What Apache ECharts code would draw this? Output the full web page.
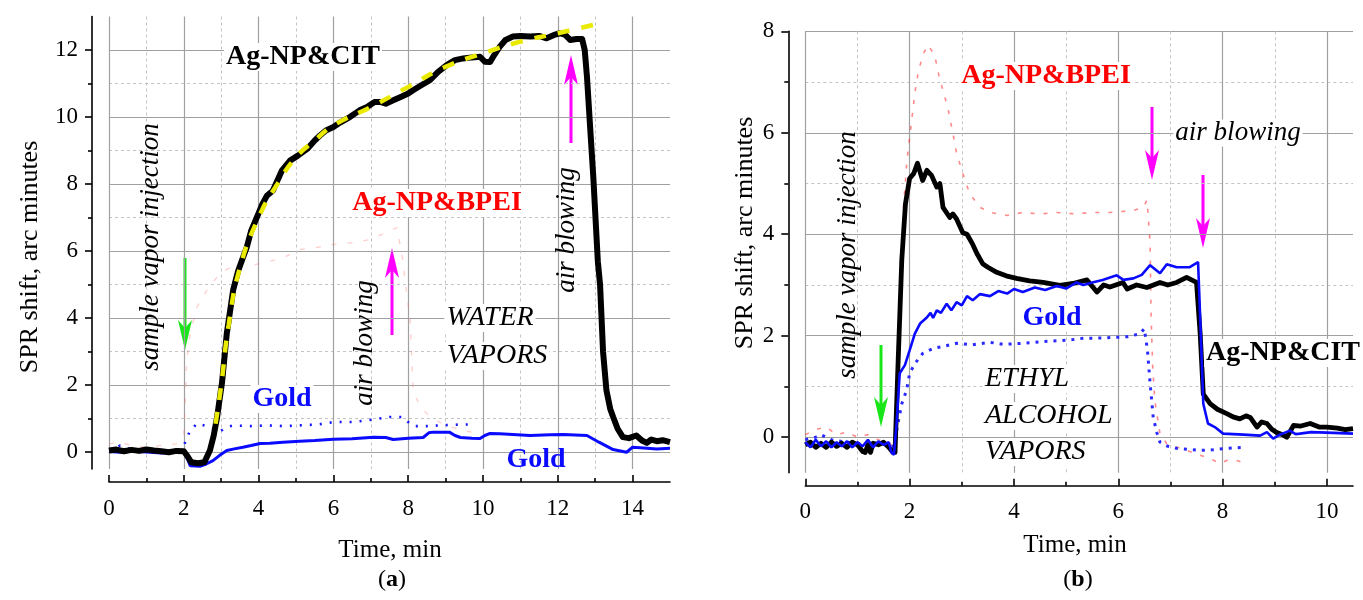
<!DOCTYPE html>
<html>
<head>
<meta charset="utf-8">
<script src="https://cdn.jsdelivr.net/npm/echarts@6/dist/echarts.min.js"></script>
<style>html,body{margin:0;padding:0;background:#fff}#c{width:1363px;height:600px}</style>
</head>
<body>
<div id="c"></div>
<script>
// ---------- DATA (time in min, SPR shift in arc minutes) ----------
// Panel (a): water vapors
var waterCit = [[0,0.05],[0.2,0.08],[0.4,0.03],[0.6,0.07],[0.8,0.04],[1.0,0.08],[1.2,0.05],[1.4,0.03],[1.6,0.0],[1.8,0.04],[2.0,0.03],[2.1,-0.12],[2.2,-0.3],[2.38,-0.33],[2.55,-0.3],[2.7,0.06],[2.8,0.5],[2.89,1.04],[2.96,1.6],[3.02,2.06],[3.15,3.55],[3.32,4.84],[3.45,5.4],[3.58,5.8],[3.68,6.1],[3.8,6.6],[3.95,7.0],[4.1,7.4],[4.22,7.65],[4.38,7.8],[4.5,8.1],[4.62,8.4],[4.84,8.7],[5.05,8.85],[5.3,9.05],[5.5,9.3],[5.64,9.45],[5.8,9.6],[6.0,9.7],[6.2,9.85],[6.44,10.0],[6.7,10.2],[6.9,10.3],[7.1,10.45],[7.25,10.45],[7.4,10.4],[7.6,10.5],[7.8,10.6],[8.0,10.7],[8.13,10.8],[8.35,10.95],[8.58,11.1],[8.8,11.35],[9.03,11.55],[9.25,11.7],[9.47,11.75],[9.7,11.78],[9.92,11.8],[10.05,11.65],[10.19,11.64],[10.3,11.85],[10.45,12.1],[10.6,12.3],[10.8,12.4],[11.0,12.42],[11.26,12.4],[11.5,12.42],[11.7,12.35],[11.9,12.45],[12.06,12.5],[12.2,12.45],[12.33,12.3],[12.5,12.33],[12.65,12.33],[12.72,12.0],[12.78,11.2],[12.87,9.6],[12.95,8.2],[13.07,5.7],[13.13,5.0],[13.21,3.0],[13.3,1.85],[13.4,1.3],[13.48,1.05],[13.6,0.7],[13.74,0.45],[13.9,0.42],[14.1,0.5],[14.25,0.35],[14.38,0.28],[14.5,0.38],[14.65,0.33],[14.8,0.36],[15,0.3]];
var waterCitFit = [[2.85,0.85],[3.0,2.0],[3.2,3.8],[3.5,5.5],[4.0,7.0],[4.5,8.0],[5.0,8.8],[5.5,9.3],[6.0,9.75],[7.0,10.3],[8.0,10.9],[9.0,11.5],[10.0,11.9],[11.0,12.25],[12.0,12.5],[12.95,12.75]];
var waterGold = [[0,0.02],[0.3,0.0],[0.6,0.03],[1.0,0.01],[1.4,-0.02],[1.8,0.0],[2.0,0.0],[2.1,-0.2],[2.17,-0.4],[2.43,-0.42],[2.6,-0.35],[2.78,-0.25],[2.95,-0.1],[3.15,0.05],[3.35,0.1],[3.58,0.15],[3.8,0.2],[4.04,0.26],[4.3,0.27],[4.65,0.3],[5.1,0.33],[5.5,0.35],[6.0,0.39],[6.5,0.4],[7.07,0.45],[7.4,0.44],[7.6,0.38],[8.0,0.42],[8.4,0.44],[8.55,0.58],[8.67,0.6],[9.1,0.6],[9.25,0.5],[9.4,0.44],[9.7,0.42],[9.92,0.41],[10.05,0.5],[10.19,0.56],[10.45,0.55],[11.26,0.5],[11.8,0.52],[12.15,0.53],[12.78,0.5],[13.1,0.3],[13.48,0.08],[13.84,0.0],[14.0,0.15],[14.3,0.13],[14.65,0.1],[15,0.12]];
var waterGold2 = [[0,0.08],[0.2,0.15],[0.3,0.2],[0.5,0.12],[0.8,0.05],[1.2,0.02],[1.6,0.05],[1.9,0.08],[2.0,0.2],[2.15,0.6],[2.35,0.86],[2.55,0.8],[2.7,0.75],[2.97,0.62],[3.15,0.75],[3.32,0.8],[3.8,0.78],[4.22,0.8],[4.7,0.78],[5.1,0.8],[5.6,0.83],[6.0,0.9],[6.5,0.9],[6.9,0.95],[7.2,1.0],[7.5,1.05],[7.86,1.05],[8.0,0.9],[8.13,0.78],[8.5,0.78],[8.85,0.8],[9.2,0.82],[9.65,0.83]];
var waterBpei = [[0,0.25],[0.3,0.3],[0.6,0.2],[1.0,0.15],[1.4,0.2],[1.8,0.25],[2.0,0.5],[2.08,2.75],[2.17,3.55],[2.35,4.33],[2.62,4.84],[2.97,5.34],[3.5,5.67],[3.85,5.58],[4.3,5.7],[4.65,5.8],[5.1,6.05],[5.5,6.1],[6.0,6.2],[6.5,6.25],[6.9,6.33],[7.3,6.5],[7.7,6.7],[7.86,5.7],[7.95,4.8],[8.05,4.0],[8.13,1.85],[8.3,1.4],[8.58,1.05],[9.0,0.8],[9.47,0.65],[9.7,0.6]];
// Panel (b): ethyl alcohol vapors
var ethCit = [[0,-0.15],[0.1,-0.1],[0.2,-0.2],[0.3,-0.12],[0.4,-0.2],[0.5,-0.1],[0.6,-0.18],[0.7,-0.12],[0.8,-0.2],[0.9,-0.1],[1.0,-0.15],[1.1,-0.28],[1.15,-0.3],[1.2,-0.15],[1.25,-0.3],[1.3,-0.12],[1.4,-0.15],[1.5,-0.1],[1.6,-0.2],[1.68,-0.3],[1.72,-0.3],[1.78,1.5],[1.85,3.5],[1.92,4.6],[2.0,5.1],[2.08,5.2],[2.15,5.4],[2.25,5.06],[2.33,5.26],[2.42,5.16],[2.52,4.93],[2.58,5.0],[2.64,4.53],[2.77,4.33],[2.83,4.4],[2.9,4.3],[3.02,4.03],[3.1,4.0],[3.21,3.8],[3.29,3.62],[3.4,3.42],[3.5,3.35],[3.67,3.25],[3.85,3.18],[4.05,3.13],[4.3,3.08],[4.56,3.05],[4.88,2.99],[5.13,3.03],[5.4,3.1],[5.59,2.86],[5.72,3.0],[5.84,2.96],[6.09,3.05],[6.17,2.92],[6.35,3.0],[6.55,2.95],[6.8,3.05],[6.95,3.0],[7.12,3.05],[7.31,3.15],[7.5,3.05],[7.57,2.04],[7.63,0.85],[7.76,0.66],[7.9,0.55],[8.09,0.46],[8.2,0.4],[8.33,0.36],[8.45,0.42],[8.53,0.39],[8.66,0.2],[8.75,0.3],[8.85,0.27],[8.95,0.15],[9.04,0.09],[9.15,0.05],[9.23,0.0],[9.36,0.23],[9.5,0.22],[9.68,0.27],[9.85,0.2],[10,0.2],[10.2,0.18],[10.35,0.15],[10.5,0.17]];
var ethGold = [[0,-0.1],[0.1,-0.2],[0.2,-0.05],[0.3,-0.18],[0.4,-0.08],[0.5,-0.2],[0.6,-0.1],[0.7,-0.18],[0.8,-0.08],[0.9,-0.2],[1.0,-0.1],[1.1,-0.18],[1.2,-0.05],[1.3,-0.2],[1.4,-0.08],[1.5,-0.15],[1.6,-0.1],[1.65,-0.3],[1.7,-0.35],[1.75,0.27],[1.81,1.26],[1.91,1.42],[2.0,1.71],[2.1,2.04],[2.2,2.24],[2.33,2.36],[2.4,2.45],[2.45,2.35],[2.52,2.5],[2.6,2.45],[2.71,2.63],[2.8,2.5],[2.9,2.66],[3.0,2.6],[3.1,2.78],[3.21,2.7],[3.35,2.82],[3.54,2.78],[3.7,2.88],[3.87,2.83],[4.0,2.92],[4.17,2.86],[4.4,2.95],[4.6,2.9],[4.82,2.98],[5.0,2.93],[5.2,3.05],[5.33,3.0],[5.5,3.05],[5.7,3.1],[5.97,3.19],[6.1,3.1],[6.29,3.13],[6.45,3.2],[6.61,3.39],[6.8,3.23],[6.93,3.41],[7.12,3.35],[7.37,3.35],[7.53,3.45],[7.57,2.36],[7.63,0.66],[7.72,0.27],[7.85,0.2],[8.01,0.07],[8.4,0.05],[8.72,0.03],[8.85,0.1],[8.97,-0.03],[9.1,0.05],[9.29,0.13],[9.4,0.06],[9.48,0.07],[9.7,0.1],[10,0.09],[10.5,0.07]];
var ethGold2 = [[0,-0.05],[0.2,0.0],[0.3,0.05],[0.5,-0.05],[0.8,-0.1],[1.0,-0.12],[1.3,-0.15],[1.5,-0.12],[1.65,-0.2],[1.72,-0.15],[1.75,0.13],[1.85,0.66],[1.94,0.92],[2.0,1.26],[2.1,1.45],[2.25,1.65],[2.45,1.75],[2.6,1.78],[2.9,1.85],[3.2,1.82],[3.54,1.87],[3.8,1.83],[4.17,1.85],[4.5,1.88],[4.82,1.9],[5.1,1.92],[5.33,1.95],[5.52,1.95],[5.8,1.96],[6.17,1.98],[6.42,2.04],[6.5,2.14],[6.56,1.71],[6.61,1.06],[6.67,0.39],[6.74,0.09],[6.8,-0.1],[6.95,-0.18],[7.12,-0.22],[7.35,-0.24],[7.57,-0.26],[7.8,-0.25],[8.09,-0.22],[8.39,-0.2]];
var ethBpei = [[0,0.05],[0.2,0.15],[0.4,0.2],[0.6,0.05],[0.8,0.1],[1.0,0.0],[1.2,0.05],[1.4,-0.05],[1.6,-0.1],[1.7,-0.2],[1.75,0.5],[1.82,3.0],[1.88,4.5],[1.95,5.46],[2.0,5.9],[2.1,6.78],[2.16,7.17],[2.25,7.53],[2.35,7.73],[2.48,7.53],[2.58,7.04],[2.64,6.84],[2.74,6.45],[2.83,5.99],[2.9,5.6],[3.02,5.2],[3.15,4.8],[3.35,4.53],[3.54,4.43],[3.87,4.37],[4.17,4.43],[4.5,4.4],[4.82,4.43],[5.2,4.4],[5.46,4.43],[5.84,4.43],[6.1,4.45],[6.29,4.47],[6.48,4.53],[6.55,4.67],[6.58,4.27],[6.61,3.82],[6.63,2.36],[6.66,1.38],[6.7,0.72],[6.8,0.07],[6.93,-0.13],[7.31,-0.26],[7.55,-0.35],[7.76,-0.42],[7.95,-0.52],[8.1,-0.45],[8.28,-0.46],[8.43,-0.52]];
// Tick values
var xTicksA = [0,2,4,6,8,10,12,14];
var xMinorA = [1,3,5,7,9,11,13];
var yTicksA = [0,2,4,6,8,10,12];
var yMinorA = [1,3,5,7,9,11];
var xTicksB = [0,2,4,6,8,10];
var xMinorB = [1,3,5,7,9];
var yTicksB = [0,2,4,6,8];
var yMinorB = [1,3,5,7];

var FONT = 'Liberation Serif';
var chart = echarts.init(document.getElementById('c'), null, {renderer: 'canvas'});

function xAx(grid, min, max, vals, major) {
  return {
    type: 'value', gridIndex: grid, min: min, max: max, position: 'bottom', offset: 13,
    axisLine: {show: major, onZero: false, lineStyle: {color: '#000', width: 1.6}},
    axisTick: {show: true, inside: true, length: major ? 7 : 4, customValues: vals, lineStyle: {color: '#000', width: 1.6}},
    axisLabel: {show: major, customValues: vals, fontFamily: FONT, fontSize: 23, color: '#000', margin: 15},
    splitLine: {show: true, lineStyle: major ? {color: '#a0a0a0', width: 1.2} : {color: '#c4c4c4', width: 1, type: [3, 3]}}
  };
}
function yAx(grid, min, max, vals, major) {
  return {
    type: 'value', gridIndex: grid, min: min, max: max, position: 'left', offset: 17,
    axisLine: {show: major, onZero: false, lineStyle: {color: '#000', width: 1.6}},
    axisTick: {show: true, inside: false, length: major ? 7 : 4, customValues: vals, lineStyle: {color: '#000', width: 1.6}},
    axisLabel: {show: major, customValues: vals, fontFamily: FONT, fontSize: 23, color: '#000', margin: 14},
    splitLine: {show: true, lineStyle: major ? {color: '#a0a0a0', width: 1.2} : {color: '#c4c4c4', width: 1, type: [3, 3]}}
  };
}

function txt(x, y, s, opt) {
  opt = opt || {};
  return {
    type: 'text', x: x, y: y, rotation: opt.rot || 0, z: 100,
    style: {
      text: s, fill: opt.color || '#000', textAlign: 'center', textVerticalAlign: 'middle',
      font: (opt.italic ? 'italic ' : '') + (opt.bold ? 'bold ' : '') + (opt.size || 27) + 'px "' + FONT + '"',
      backgroundColor: opt.bg ? '#fff' : null, padding: opt.bg ? [0, 2] : 0
    }
  };
}
function arrow(x, y0, tip, color) {
  var dir = tip > y0 ? 1 : -1;
  var hl = 30, hw = 7, notch = 8;
  return {
    type: 'group', z: 100, children: [
      {type: 'line', shape: {x1: x, y1: y0, x2: x, y2: tip - dir * (hl - notch)}, style: {stroke: color, lineWidth: 3}},
      {type: 'polygon', shape: {points: [[x, tip], [x - hw, tip - dir * hl], [x, tip - dir * (hl - notch)], [x + hw, tip - dir * hl]]}, style: {fill: color}}
    ]
  };
}

var option = {
  animation: false,
  backgroundColor: '#fff',
  grid: [
    {left: 109, top: 16.5, width: 561, height: 452.5},
    {left: 805.3, top: 31.3, width: 547.7, height: 441.4}
  ],
  xAxis: [
    xAx(0, 0, 15, xTicksA, true), xAx(0, 0, 15, xMinorA, false),
    xAx(1, 0, 10.5, xTicksB, true), xAx(1, 0, 10.5, xMinorB, false)
  ],
  yAxis: [
    yAx(0, -0.5, 13, yTicksA, true), yAx(0, -0.5, 13, yMinorA, false),
    yAx(1, -0.7, 8, yTicksB, true), yAx(1, -0.7, 8, yMinorB, false)
  ],
  series: [
    {type: 'line', xAxisIndex: 0, yAxisIndex: 0, data: waterBpei, showSymbol: false, z: 2,
     lineStyle: {color: 'rgba(250,120,120,0.35)', width: 1.4, type: [5, 11]}},
    {type: 'line', xAxisIndex: 0, yAxisIndex: 0, data: waterGold2, showSymbol: false, z: 3,
     lineStyle: {color: '#1515ff', width: 2.6, type: [2, 8]}},
    {type: 'line', xAxisIndex: 0, yAxisIndex: 0, data: waterGold, showSymbol: false, z: 4,
     lineStyle: {color: '#0a0aff', width: 3}},
    {type: 'line', xAxisIndex: 0, yAxisIndex: 0, data: waterCit, showSymbol: false, z: 5,
     lineStyle: {color: '#000', width: 6, join: 'round'}},
    {type: 'line', xAxisIndex: 0, yAxisIndex: 0, data: waterCitFit, showSymbol: false, smooth: 0.5, z: 6,
     lineStyle: {color: '#eaea00', width: 4.5, type: [12, 12]}},

    {type: 'line', xAxisIndex: 2, yAxisIndex: 2, data: ethBpei, showSymbol: false, z: 2,
     lineStyle: {color: 'rgba(255,40,40,0.55)', width: 1.6, type: [4, 9]}},
    {type: 'line', xAxisIndex: 2, yAxisIndex: 2, data: ethGold2, showSymbol: false, z: 3,
     lineStyle: {color: '#2a2aff', width: 3, type: [3, 6]}},
    {type: 'line', xAxisIndex: 2, yAxisIndex: 2, data: ethCit, showSymbol: false, z: 4,
     lineStyle: {color: '#000', width: 4.8, join: 'round'}},
    {type: 'line', xAxisIndex: 2, yAxisIndex: 2, data: ethGold, showSymbol: false, z: 5,
     lineStyle: {color: '#0a0aff', width: 2.6}}
  ],
  graphic: [
    txt(30, 257, 'SPR shift, arc minutes', {rot: Math.PI / 2, size: 26}),
    txt(745, 233, 'SPR shift, arc minutes', {rot: Math.PI / 2, size: 26}),
    txt(390, 550, 'Time, min', {size: 25}),
    txt(1075, 545, 'Time, min', {size: 25}),
    {type: 'text', x: 392, y: 580, z: 100, style: {text: '{n|(}{b|a}{n|)}', textAlign: 'center', textVerticalAlign: 'middle',
      rich: {n: {fontFamily: FONT, fontSize: 24, fill: '#000'}, b: {fontFamily: FONT, fontSize: 24, fontWeight: 'bold', fill: '#000'}}}},
    {type: 'text', x: 1078, y: 580, z: 100, style: {text: '{n|(}{b|b}{n|)}', textAlign: 'center', textVerticalAlign: 'middle',
      rich: {n: {fontFamily: FONT, fontSize: 24, fill: '#000'}, b: {fontFamily: FONT, fontSize: 24, fontWeight: 'bold', fill: '#000'}}}},

    // panel (a)
    txt(303, 57, 'Ag-NP&CIT', {bold: true, size: 28, bg: true}),
    txt(437, 203, 'Ag-NP&BPEI', {bold: true, size: 28, color: '#ff0000', bg: true}),
    txt(282, 399, 'Gold', {bold: true, size: 28, color: '#0a0aff', bg: true}),
    txt(536, 460, 'Gold', {bold: true, size: 28, color: '#0a0aff'}),
    txt(490, 318, 'WATER', {italic: true, size: 28, bg: true}),
    txt(497, 356, 'VAPORS', {italic: true, size: 28, bg: true}),
    txt(151, 247, 'sample vapor injection', {italic: true, size: 27, rot: Math.PI / 2}),
    txt(365, 343, 'air blowing', {italic: true, size: 27, rot: Math.PI / 2}),
    txt(567, 230, 'air blowing', {italic: true, size: 27, rot: Math.PI / 2}),
    arrow(185, 258, 350, '#19e619'),
    arrow(392, 335, 248, '#ff00ff'),
    arrow(571, 143, 55, '#ff00ff'),

    // panel (b)
    txt(1046, 76, 'Ag-NP&BPEI', {bold: true, size: 28, color: '#ff0000', bg: true}),
    txt(1238, 133, 'air blowing', {italic: true, size: 27, bg: true}),
    txt(1052, 318, 'Gold', {bold: true, size: 28, color: '#0a0aff', bg: true}),
    txt(1283, 353, 'Ag-NP&CIT', {bold: true, size: 28, bg: true}),
    {type: 'text', x: 983, y: 379, z: 100, style: {text: 'ETHYL', fill: '#000', textAlign: 'left', textVerticalAlign: 'middle', font: 'italic 28px "' + FONT + '"', backgroundColor: '#fff', padding: [0, 2]}},
    {type: 'text', x: 983, y: 416, z: 100, style: {text: 'ALCOHOL', fill: '#000', textAlign: 'left', textVerticalAlign: 'middle', font: 'italic 28px "' + FONT + '"', backgroundColor: '#fff', padding: [0, 2]}},
    {type: 'text', x: 983, y: 452, z: 100, style: {text: 'VAPORS', fill: '#000', textAlign: 'left', textVerticalAlign: 'middle', font: 'italic 28px "' + FONT + '"', backgroundColor: '#fff', padding: [0, 2]}},
    txt(848, 255, 'sample vapor injection', {italic: true, size: 27, rot: Math.PI / 2}),
    arrow(881, 345, 427, '#19e619'),
    arrow(1152, 107, 180, '#ff00ff'),
    arrow(1203, 175, 248, '#ff00ff')
  ]
};
chart.setOption(option);
</script>
</body>
</html>
